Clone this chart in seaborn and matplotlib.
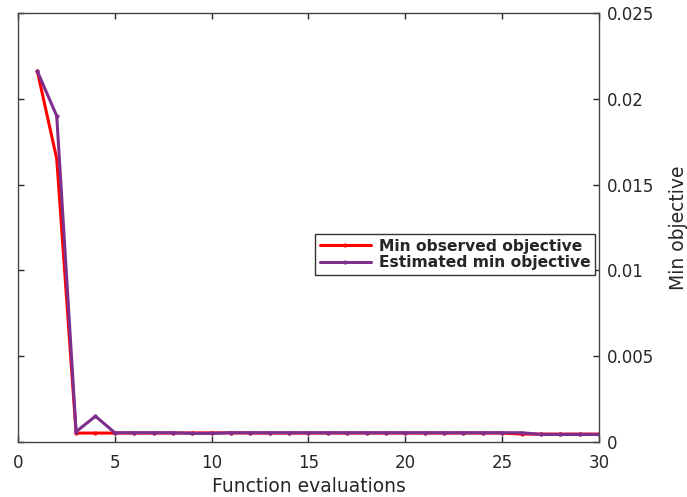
import matplotlib
matplotlib.use("Agg")
import matplotlib.pyplot as plt
import seaborn as sns
import pandas as pd
import numpy as np

sns.set_theme(style="white")
plt.rcParams['font.family'] = ['DejaVu Sans']

evals = list(range(1, 31))
min_observed = [0.0216, 0.0165, 0.00052, 0.00052, 0.00052, 0.00052, 0.00052, 0.00052,
                0.00053, 0.00053, 0.00053, 0.00052, 0.00052, 0.00052, 0.00052, 0.00052,
                0.00052, 0.00052, 0.00052, 0.00052, 0.00052, 0.00052, 0.00052, 0.00052,
                0.00052, 0.00046, 0.00046, 0.00046, 0.00046, 0.00046]
est_min = [0.0216, 0.0190, 0.00060, 0.0015, 0.00054, 0.00054, 0.00054, 0.00054,
           0.00050, 0.00050, 0.00054, 0.00054, 0.00054, 0.00054, 0.00054, 0.00054,
           0.00054, 0.00054, 0.00054, 0.00054, 0.00054, 0.00054, 0.00054, 0.00054,
           0.00054, 0.00054, 0.00044, 0.00044, 0.00044, 0.00044]
series_names = ["Min observed objective", "Estimated min objective"]
colors = ["#ff0000", "#7e2f8e"]
xticks = [0, 5, 10, 15, 20, 25, 30]
yticks = [0, 0.005, 0.01, 0.015, 0.02, 0.025]
yticklabels = ["0", "0.005", "0.01", "0.015", "0.02", "0.025"]

df = pd.DataFrame({
    "x": evals * 2,
    "y": min_observed + est_min,
    "series": [series_names[0]] * len(evals) + [series_names[1]] * len(evals),
})

fig = plt.figure(figsize=(6.87, 4.97), dpi=100)
ax = fig.add_axes([0.0262, 0.1107, 0.8457, 0.8632])

sns.lineplot(data=df, x="x", y="y", hue="series", palette=colors,
             hue_order=series_names, ax=ax, linewidth=2.2, marker=".",
             markersize=6, markeredgewidth=0, legend=True)

ax.set_xlim(0, 30)
ax.set_ylim(0, 0.025)
ax.set_xticks(xticks)
ax.set_xticklabels([str(t) for t in xticks])
ax.set_yticks(yticks)
ax.set_yticklabels(yticklabels)
tc = "#262626"
ax.tick_params(axis="both", direction="in", length=4, width=1, colors=tc,
               labelsize=12, top=True, bottom=True, left=True, right=True,
               labelleft=False, labelright=True)
ax.tick_params(axis="x", pad=9)
ax.tick_params(axis="y", pad=6)
ax.yaxis.set_label_position("right")
ax.set_ylabel("Min objective", fontsize=13.5, color=tc, labelpad=10)
ax.set_xlabel("Function evaluations", fontsize=13.5, color=tc, labelpad=3)
for s in ax.spines.values():
    s.set_color("#444444")
    s.set_linewidth(1.0)

leg = ax.legend(loc="upper right", bbox_to_anchor=(0.993, 0.485), frameon=True,
                fancybox=False, edgecolor="#333333", framealpha=1,
                prop={"weight": "bold", "size": 11.2}, handlelength=3.3,
                borderpad=0.3, labelspacing=0.1, handletextpad=0.5,
                borderaxespad=0)
leg.get_frame().set_linewidth(1.0)

fig.savefig("out.png", dpi=100)
